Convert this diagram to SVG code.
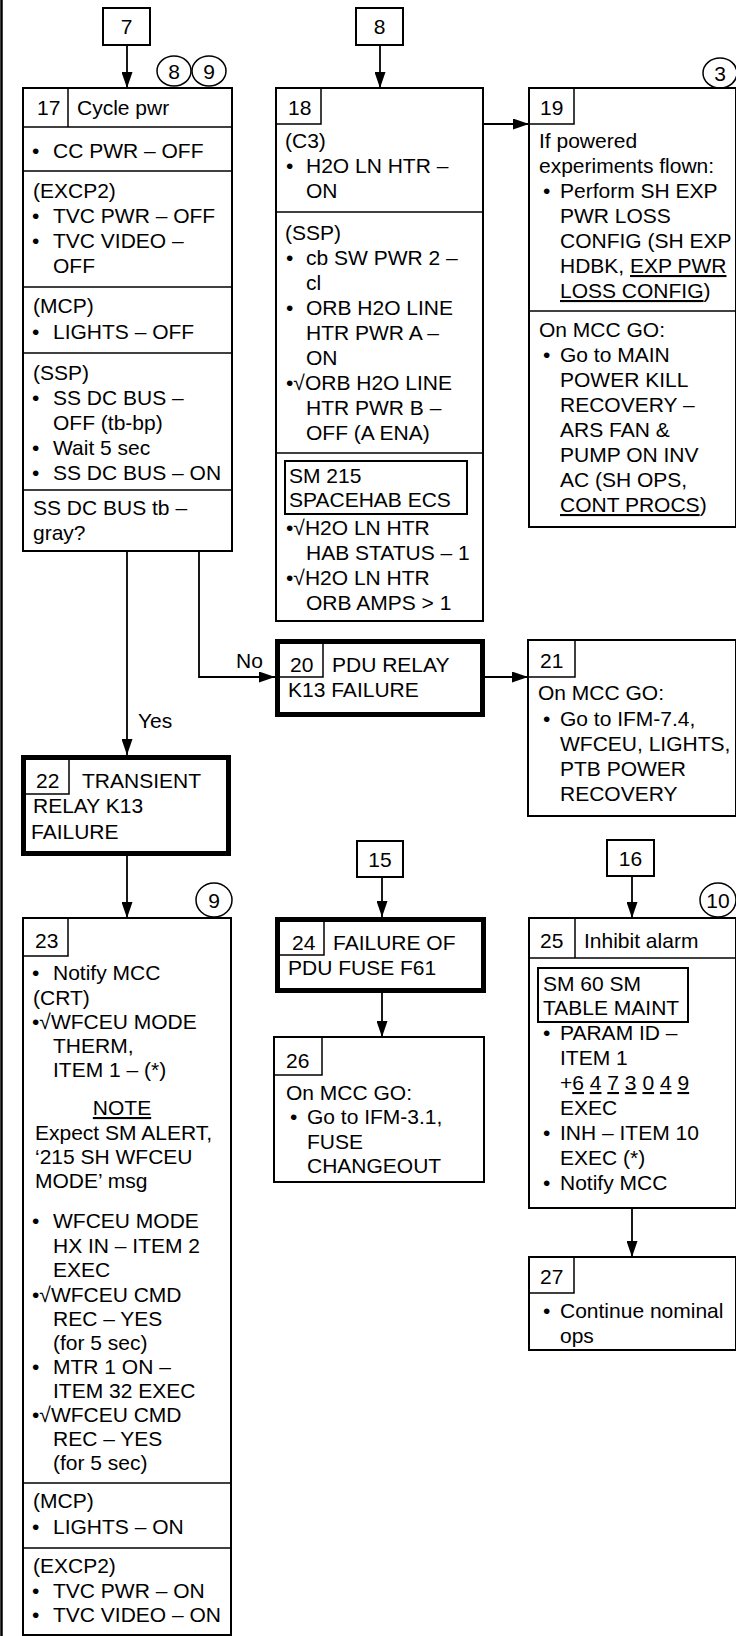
<svg xmlns="http://www.w3.org/2000/svg" width="736" height="1636" viewBox="0 0 736 1636">
<style>
text{font-family:"Liberation Sans",Arial,sans-serif;font-size:21px;fill:#000}
.c{text-anchor:middle}
.u{text-decoration:underline}
.bx{fill:#fff;stroke:#000;stroke-width:2}
.tk{fill:#fff;stroke:#000;stroke-width:5}
.ln{fill:none;stroke:#000;stroke-width:1.5}
.cn{fill:none;stroke:#000;stroke-width:1.8}
.ci{fill:#fff;stroke:#000;stroke-width:1.5}
</style>
<defs>
<marker id="ah" viewBox="0 0 16 11" refX="16" refY="5.5" markerWidth="16" markerHeight="11" markerUnits="userSpaceOnUse" orient="auto">
<path d="M0,0 L16,5.5 L0,11 z" fill="#000"/>
</marker>
</defs>
<rect width="736" height="1636" fill="#fff"/>
<line x1="1.5" y1="0" x2="1.5" y2="1636" stroke="#000" stroke-width="2.5"/>

<g id="connectors">
<line class="cn" x1="127" y1="45" x2="127" y2="88" marker-end="url(#ah)"/>
<line class="cn" x1="380" y1="45" x2="380" y2="88" marker-end="url(#ah)"/>
<line class="cn" x1="483" y1="124" x2="529" y2="124" marker-end="url(#ah)"/>
<line class="cn" x1="127" y1="551" x2="127" y2="755" marker-end="url(#ah)"/>
<polyline class="cn" points="199,551 199,677 275,677" marker-end="url(#ah)"/>
<line class="cn" x1="485" y1="677" x2="528" y2="677" marker-end="url(#ah)"/>
<line class="cn" x1="127" y1="856" x2="127" y2="918" marker-end="url(#ah)"/>
<line class="cn" x1="382" y1="877" x2="382" y2="917" marker-end="url(#ah)"/>
<line class="cn" x1="382" y1="993" x2="382" y2="1037" marker-end="url(#ah)"/>
<line class="cn" x1="632" y1="876" x2="632" y2="918" marker-end="url(#ah)"/>
<line class="cn" x1="632" y1="1208" x2="632" y2="1257" marker-end="url(#ah)"/>
<text x="138" y="728">Yes</text>
<text x="236" y="668">No</text>
</g>

<g id="ref7"><rect class="bx" x="103" y="8" width="47" height="37"/><text class="c" x="126.5" y="34">7</text></g>
<g id="ref8"><rect class="bx" x="356" y="8" width="47" height="37"/><text class="c" x="379.5" y="34">8</text></g>
<g id="ref15"><rect class="bx" x="357" y="841" width="46" height="36"/><text class="c" x="380" y="867">15</text></g>
<g id="ref16"><rect class="bx" x="607" y="840" width="47" height="36"/><text class="c" x="630.5" y="866">16</text></g>

<g id="circ8"><ellipse class="ci" cx="174" cy="71" rx="17" ry="15"/><text class="c" x="174" y="79">8</text></g>
<g id="circ9a"><ellipse class="ci" cx="209" cy="71" rx="17" ry="15"/><text class="c" x="209" y="79">9</text></g>
<g id="circ3"><ellipse class="ci" cx="720" cy="73" rx="17" ry="15"/><text class="c" x="720" y="81">3</text></g>
<g id="circ9b"><ellipse class="ci" cx="214" cy="900" rx="18" ry="17"/><text class="c" x="214" y="908">9</text></g>
<g id="circ10"><ellipse class="ci" cx="718" cy="900" rx="18" ry="17"/><text class="c" x="718" y="908">10</text></g>

<g id="n17">
<rect class="bx" x="23" y="88" width="209" height="463"/>
<line class="ln" x1="68" y1="88" x2="68" y2="127"/>
<line class="ln" x1="23" y1="127" x2="232" y2="127"/>
<line class="ln" x1="23" y1="171" x2="232" y2="171"/>
<line class="ln" x1="23" y1="287" x2="232" y2="287"/>
<line class="ln" x1="23" y1="353" x2="232" y2="353"/>
<line class="ln" x1="23" y1="490" x2="232" y2="490"/>
<text x="37" y="115">17</text><text x="77" y="115">Cycle pwr</text>
<text x="32" y="158">•</text><text x="53" y="158">CC PWR – OFF</text>
<text x="33" y="198">(EXCP2)</text>
<text x="32" y="223">•</text><text x="53" y="223">TVC PWR – OFF</text>
<text x="32" y="248">•</text><text x="53" y="248">TVC VIDEO –</text>
<text x="53" y="273">OFF</text>
<text x="33" y="313">(MCP)</text>
<text x="32" y="339">•</text><text x="53" y="339">LIGHTS – OFF</text>
<text x="33" y="380">(SSP)</text>
<text x="32" y="405">•</text><text x="53" y="405">SS DC BUS –</text>
<text x="53" y="430">OFF (tb-bp)</text>
<text x="32" y="455">•</text><text x="53" y="455">Wait 5 sec</text>
<text x="32" y="480">•</text><text x="53" y="480">SS DC BUS – ON</text>
<text x="33" y="515">SS DC BUS tb –</text>
<text x="33" y="540">gray?</text>
</g>

<g id="n18">
<rect class="bx" x="276" y="88" width="207" height="533"/>
<polyline class="ln" points="276,124 321,124 321,88"/>
<line class="ln" x1="276" y1="212" x2="483" y2="212"/>
<line class="ln" x1="276" y1="453" x2="483" y2="453"/>
<text x="288" y="115">18</text>
<text x="285" y="148">(C3)</text>
<text x="286" y="173">•</text><text x="306" y="173">H2O LN HTR –</text>
<text x="306" y="198">ON</text>
<text x="285" y="240">(SSP)</text>
<text x="286" y="265">•</text><text x="306" y="265">cb SW PWR 2 –</text>
<text x="306" y="290">cl</text>
<text x="286" y="315">•</text><text x="306" y="315">ORB H2O LINE</text>
<text x="306" y="340">HTR PWR A –</text>
<text x="306" y="365">ON</text>
<text x="286" y="390">•√ORB H2O LINE</text>
<text x="306" y="415">HTR PWR B –</text>
<text x="306" y="440">OFF (A ENA)</text>
<rect class="bx" x="285" y="461" width="182" height="53"/>
<text x="289" y="483">SM 215</text>
<text x="289" y="507">SPACEHAB ECS</text>
<text x="286" y="535">•√H2O LN HTR</text>
<text x="306" y="560">HAB STATUS – 1</text>
<text x="286" y="585">•√H2O LN HTR</text>
<text x="306" y="610">ORB AMPS &gt; 1</text>
</g>

<g id="n19">
<rect class="bx" x="529" y="88" width="207" height="439"/>
<polyline class="ln" points="529,124 574,124 574,88"/>
<line class="ln" x1="529" y1="311" x2="736" y2="311"/>
<text x="540" y="115">19</text>
<text x="539" y="148">If powered</text>
<text x="539" y="173">experiments flown:</text>
<text x="543" y="198">•</text><text x="560" y="198">Perform SH EXP</text>
<text x="560" y="223">PWR LOSS</text>
<text x="560" y="248">CONFIG (SH EXP</text>
<text x="560" y="273">HDBK, <tspan class="u">EXP PWR</tspan></text>
<text x="560" y="298"><tspan class="u">LOSS CONFIG</tspan>)</text>
<text x="539" y="337">On MCC GO:</text>
<text x="543" y="362">•</text><text x="560" y="362">Go to MAIN</text>
<text x="560" y="387">POWER KILL</text>
<text x="560" y="412">RECOVERY –</text>
<text x="560" y="437">ARS FAN &amp;</text>
<text x="560" y="462">PUMP ON INV</text>
<text x="560" y="487">AC (SH OPS,</text>
<text x="560" y="512"><tspan class="u">CONT PROCS</tspan>)</text>
</g>

<g id="n20">
<rect class="tk" x="277.5" y="641.5" width="205" height="73"/>
<polyline class="ln" points="280,677 323,677 323,644"/>
<text x="290" y="672">20</text><text x="332" y="672">PDU RELAY</text>
<text x="288" y="697">K13 FAILURE</text>
</g>

<g id="n21">
<rect class="bx" x="528" y="640" width="208" height="176"/>
<polyline class="ln" points="528,677 575,677 575,640"/>
<text x="540" y="668">21</text>
<text x="538" y="700">On MCC GO:</text>
<text x="543" y="726">•</text><text x="560" y="726">Go to IFM-7.4,</text>
<text x="560" y="751">WFCEU, LIGHTS,</text>
<text x="560" y="776">PTB POWER</text>
<text x="560" y="801">RECOVERY</text>
</g>

<g id="n22">
<rect class="tk" x="23.5" y="757.5" width="205" height="96"/>
<polyline class="ln" points="26,794 69,794 69,760"/>
<text x="36" y="788">22</text><text x="82" y="788">TRANSIENT</text>
<text x="33" y="813">RELAY K13</text>
<text x="31" y="839">FAILURE</text>
</g>

<g id="n23">
<rect class="bx" x="23" y="918" width="208" height="717"/>
<polyline class="ln" points="23,956 68,956 68,918"/>
<line class="ln" x1="23" y1="1483" x2="231" y2="1483"/>
<line class="ln" x1="23" y1="1548" x2="231" y2="1548"/>
<text x="35" y="948">23</text>
<text x="32" y="980">•</text><text x="53" y="980">Notify MCC</text>
<text x="33" y="1005">(CRT)</text>
<text x="32" y="1029">•√WFCEU MODE</text>
<text x="53" y="1053">THERM,</text>
<text x="53" y="1077">ITEM 1 – (*)</text>
<text class="c u" x="122" y="1115">NOTE</text>
<text x="35" y="1140">Expect SM ALERT,</text>
<text x="35" y="1164">‘215 SH WFCEU</text>
<text x="35" y="1188">MODE’ msg</text>
<text x="32" y="1228">•</text><text x="53" y="1228">WFCEU MODE</text>
<text x="53" y="1253">HX IN – ITEM 2</text>
<text x="53" y="1277">EXEC</text>
<text x="32" y="1302">•√WFCEU CMD</text>
<text x="53" y="1326">REC – YES</text>
<text x="53" y="1350">(for 5 sec)</text>
<text x="32" y="1374">•</text><text x="53" y="1374">MTR 1 ON –</text>
<text x="53" y="1398">ITEM 32 EXEC</text>
<text x="32" y="1422">•√WFCEU CMD</text>
<text x="53" y="1446">REC – YES</text>
<text x="53" y="1470">(for 5 sec)</text>
<text x="33" y="1508">(MCP)</text>
<text x="32" y="1534">•</text><text x="53" y="1534">LIGHTS – ON</text>
<text x="33" y="1573">(EXCP2)</text>
<text x="32" y="1598">•</text><text x="53" y="1598">TVC PWR – ON</text>
<text x="32" y="1622">•</text><text x="53" y="1622">TVC VIDEO – ON</text>
</g>

<g id="n24">
<rect class="tk" x="277.5" y="919.5" width="206" height="71"/>
<polyline class="ln" points="280,955 324,955 324,922"/>
<text x="292" y="950">24</text><text x="333" y="950">FAILURE OF</text>
<text x="288" y="975">PDU FUSE F61</text>
</g>

<g id="n25">
<rect class="bx" x="529" y="918" width="207" height="290"/>
<line class="ln" x1="575" y1="918" x2="575" y2="958"/>
<line class="ln" x1="529" y1="958" x2="736" y2="958"/>
<text x="540" y="948">25</text><text x="584" y="948">Inhibit alarm</text>
<rect class="bx" x="538" y="968" width="150" height="54"/>
<text x="543" y="991">SM 60 SM</text>
<text x="543" y="1015">TABLE MAINT</text>
<text x="543" y="1040">•</text><text x="560" y="1040">PARAM ID –</text>
<text x="560" y="1065">ITEM 1</text>
<text x="560" y="1090">+<tspan class="u">6</tspan> <tspan class="u">4</tspan> <tspan class="u">7</tspan> <tspan class="u">3</tspan> <tspan class="u">0</tspan> <tspan class="u">4</tspan> <tspan class="u">9</tspan></text>
<text x="560" y="1115">EXEC</text>
<text x="543" y="1140">•</text><text x="560" y="1140">INH – ITEM 10</text>
<text x="560" y="1165">EXEC (*)</text>
<text x="543" y="1190">•</text><text x="560" y="1190">Notify MCC</text>
</g>

<g id="n26">
<rect class="bx" x="274" y="1037" width="210" height="145"/>
<polyline class="ln" points="274,1075 322,1075 322,1037"/>
<text x="286" y="1068">26</text>
<text x="286" y="1100">On MCC GO:</text>
<text x="290" y="1124">•</text><text x="307" y="1124">Go to IFM-3.1,</text>
<text x="307" y="1149">FUSE</text>
<text x="307" y="1173">CHANGEOUT</text>
</g>

<g id="n27">
<rect class="bx" x="529" y="1257" width="207" height="93"/>
<polyline class="ln" points="529,1293 574,1293 574,1257"/>
<text x="540" y="1284">27</text>
<text x="543" y="1318">•</text><text x="560" y="1318">Continue nominal</text>
<text x="560" y="1343">ops</text>
</g>
</svg>
